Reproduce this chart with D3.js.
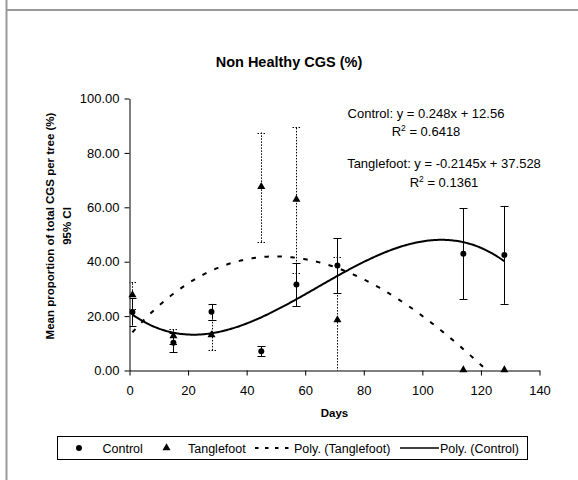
<!DOCTYPE html>
<html><head><meta charset="utf-8">
<script src="https://cdn.jsdelivr.net/npm/d3@7"></script>
<style>body{margin:0;background:#fff}svg{display:block;font-family:"Liberation Sans",Arial,sans-serif}</style>
</head><body><svg id="c" width="578" height="480"></svg>
<script>
// ---- data ----
const days = [1, 15, 28, 45, 57, 71, 114, 128];
const controlMean = [21.5, 10.2, 21.6, 7.1, 31.6, 38.6, 42.9, 42.5];
const controlCI = [5.0, 3.5, 2.9, 1.9, 8.0, 10.0, 16.7, 18.0];
const tangleMean = [27.6, 12.5, 12.9, 67.4, 62.7, 18.4, 0, 0];
const tangleCI = [4.9, 2.6, 5.5, 20.1, 27.0, 23.2, 0, 0];
const xTicks = [0, 20, 40, 60, 80, 100, 120, 140];
const yTicks = [0, 20, 40, 60, 80, 100];
const titleText = "Non Healthy CGS (%)";
const xTitle = "Days";
const yTitle = ["Mean proportion of total CGS per tree (%)", "95% CI"];
const eqControl = ["Control: y = 0.248x + 12.56", "0.6418"];
const eqTangle = ["Tanglefoot: y = -0.2145x + 37.528", "0.1361"];
const legendLabels = ["Control", "Tanglefoot", "Poly. (Tanglefoot)", "Poly. (Control)"];
const polyOrder = 3;

// least squares polynomial fit (as the spreadsheet trendline)
function polyfit(xs, ys, order) {
  const n = order + 1;
  const A = [], b = [];
  for (let i = 0; i < n; i++) {
    A.push([]);
    for (let j = 0; j < n; j++) A[i].push(d3.sum(xs, v => Math.pow(v, i + j)));
    b.push(d3.sum(xs, (v, k) => ys[k] * Math.pow(v, i)));
  }
  for (let c = 0; c < n; c++) {
    let p = c;
    for (let r = c + 1; r < n; r++) if (Math.abs(A[r][c]) > Math.abs(A[p][c])) p = r;
    [A[c], A[p]] = [A[p], A[c]]; [b[c], b[p]] = [b[p], b[c]];
    for (let r = c + 1; r < n; r++) {
      const f = A[r][c] / A[c][c];
      for (let k = c; k < n; k++) A[r][k] -= f * A[c][k];
      b[r] -= f * b[c];
    }
  }
  const co = new Array(n).fill(0);
  for (let r = n - 1; r >= 0; r--) {
    let s = b[r];
    for (let k = r + 1; k < n; k++) s -= A[r][k] * co[k];
    co[r] = s / A[r][r];
  }
  return v => co.reduce((acc, c, i) => acc + c * Math.pow(v, i), 0);
}

const svg = d3.select("#c");
const x = d3.scaleLinear().domain([0, 140]).range([129.5, 539.5]);
const y = d3.scaleLinear().domain([0, 100]).range([370.5, 98.5]);

// frame
svg.append("line").attr("x1", 6.5).attr("x2", 6.5).attr("y1", 0).attr("y2", 480)
  .attr("stroke", "#999").attr("stroke-width", 2);
svg.append("line").attr("x1", 6).attr("x2", 578).attr("y1", 10).attr("y2", 10)
  .attr("stroke", "#999").attr("stroke-width", 2);

// title
svg.append("text").attr("x", 289).attr("y", 67).attr("text-anchor", "middle")
  .attr("font-weight", "bold").attr("font-size", 14.5).text(titleText);

// clip
svg.append("clipPath").attr("id", "plot").append("rect")
  .attr("x", x(0)).attr("y", y(100)).attr("width", x(140) - x(0)).attr("height", y(0) - y(100));

// axes
const gx = svg.append("g").attr("transform", `translate(0,${y(0)})`)
  .call(d3.axisBottom(x).tickValues(xTicks).tickSize(5).tickSizeOuter(0).tickPadding(10).tickFormat(d3.format("d")));
const gy = svg.append("g").attr("transform", `translate(${x(0)},0)`)
  .call(d3.axisLeft(y).tickValues(yTicks).tickSize(5).tickSizeOuter(0).tickPadding(5).tickFormat(d3.format(".2f")));
[gx, gy].forEach(g => {
  g.attr("font-family", null).attr("font-size", 13);
  g.selectAll("text").attr("fill", "#000");
  g.selectAll("line,path").attr("stroke", "#000");
});

// axis titles
svg.append("text").attr("x", x(70)).attr("y", 417).attr("text-anchor", "middle")
  .attr("font-weight", "bold").attr("font-size", 11.5).text(xTitle);
yTitle.forEach((t, i) => {
  svg.append("text").attr("transform", `translate(${54 + i * 17},226) rotate(-90)`)
    .attr("text-anchor", "middle").attr("font-weight", "bold").attr("font-size", 11.5).text(t);
});

const plot = svg.append("g").attr("clip-path", "url(#plot)");

// error bars
function errorBars(means, cis, dash) {
  const g = plot.append("g").attr("stroke", "#000").attr("stroke-width", 1)
    .attr("stroke-dasharray", dash);
  days.forEach((d, i) => {
    if (!cis[i]) return;
    const cx = Math.round(x(d)) + 0.5, lo = y(means[i] - cis[i]), hi = y(means[i] + cis[i]);
    g.append("line").attr("x1", cx).attr("x2", cx).attr("y1", lo).attr("y2", hi);
    [lo, hi].forEach(v => g.append("line").attr("x1", cx - 4).attr("x2", cx + 4)
      .attr("y1", Math.round(v) + 0.5).attr("y2", Math.round(v) + 0.5));
  });
}
errorBars(controlMean, controlCI, null);
errorBars(tangleMean, tangleCI, "1.5,1.5");

// trendlines
const xs = d3.range(days[0], days[days.length - 1] + 0.001, 0.5);
const fc = polyfit(days, controlMean, polyOrder);
const ft = polyfit(days, tangleMean, polyOrder);
const line = d3.line().x(d => x(d[0])).y(d => y(d[1]));
plot.append("path").attr("d", line(xs.map(v => [v, ft(v)]))).attr("fill", "none")
  .attr("stroke", "#000").attr("stroke-width", 2).attr("stroke-dasharray", "4.5,8.5");
plot.append("path").attr("d", line(xs.map(v => [v, fc(v)]))).attr("fill", "none")
  .attr("stroke", "#000").attr("stroke-width", 2);

// markers
const circ = d3.symbol().type(d3.symbolCircle).size(28);
const tri = d3.symbol().type(d3.symbolTriangle).size(28);
svg.append("g").selectAll("path").data(days).join("path")
  .attr("transform", (d, i) => `translate(${x(d)},${y(controlMean[i])})`).attr("d", circ).attr("fill", "#000");
svg.append("g").selectAll("path").data(days).join("path")
  .attr("transform", (d, i) => `translate(${x(d)},${y(tangleMean[i]) - 0.5})`).attr("d", tri).attr("fill", "#000");

// equations
function eq(lines, cx, by) {
  svg.append("text").attr("x", cx).attr("y", by).attr("text-anchor", "middle").attr("font-size", 13).text(lines[0]);
  const t = svg.append("text").attr("x", cx).attr("y", by + 18.5).attr("text-anchor", "middle").attr("font-size", 13);
  t.append("tspan").text("R");
  t.append("tspan").attr("font-size", 8.5).attr("dy", -5).text("2");
  t.append("tspan").attr("dy", 5).text(" = " + lines[1]);
}
eq(eqControl, 426, 117.5);
eq(eqTangle, 444, 168);

// legend
const lg = svg.append("g").attr("font-size", 12.5);
lg.append("rect").attr("x", 57.5).attr("y", 436.5).attr("width", 470).attr("height", 23)
  .attr("fill", "#fff").attr("stroke", "#000");
const ly = 448;
lg.append("path").attr("transform", `translate(79,${ly})`).attr("d", circ).attr("fill", "#000");
lg.append("text").attr("x", 102.5).attr("y", 452.5).text(legendLabels[0]);
lg.append("path").attr("transform", `translate(166.5,${ly})`).attr("d", tri).attr("fill", "#000");
lg.append("text").attr("x", 188).attr("y", 452.5).text(legendLabels[1]);
lg.append("line").attr("x1", 255).attr("x2", 291).attr("y1", ly).attr("y2", ly)
  .attr("stroke", "#000").attr("stroke-width", 2).attr("stroke-dasharray", "3.5,6.5");
lg.append("text").attr("x", 294).attr("y", 452.5).text(legendLabels[2]);
lg.append("line").attr("x1", 400).attr("x2", 439).attr("y1", ly).attr("y2", ly)
  .attr("stroke", "#000").attr("stroke-width", 1.5);
lg.append("text").attr("x", 440).attr("y", 452.5).text(legendLabels[3]);
</script></body></html>
